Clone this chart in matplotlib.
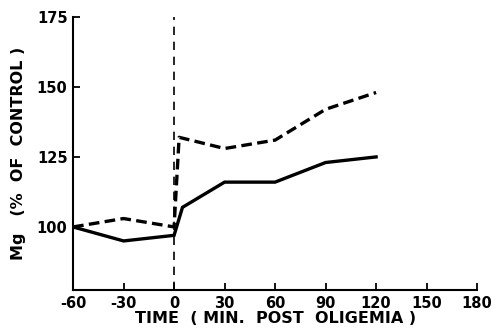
import matplotlib
matplotlib.use('Agg')
import matplotlib.pyplot as plt

plt.rcParams['axes.unicode_minus'] = False

# ── Data ────────────────────────────────────────────────────
time_dashed = [-60, -30, 0, 3, 30, 60, 90, 120]
mg_dashed = [100, 103, 100, 132, 128, 131, 142, 148]

time_solid = [-60, -30, 0, 5, 30, 60, 90, 120]
mg_solid = [100, 95, 97, 107, 116, 116, 123, 125]

x_ticks = [-60, -30, 0, 30, 60, 90, 120, 150, 180]
y_ticks = [100, 125, 150, 175]

fig = plt.figure(figsize=(4.97, 3.31), dpi=100)
ax = fig.add_axes([0.147, 0.124, 0.813, 0.825])

ax.plot(time_dashed, mg_dashed, color='black', lw=2.4, ls=(0, (3.2, 1.6)))
ax.plot(time_solid, mg_solid, color='black', lw=2.4, solid_joinstyle='miter')
ax.axvline(0, color='black', lw=1.2, ls=(0, (5, 4)))

ax.set_xlim(-60, 180)
ax.set_ylim(77.5, 175)
ax.set_xticks(x_ticks)
ax.set_yticks(y_ticks)
ax.tick_params(direction='in', length=5, width=1.3, labelsize=10.5, pad=4)
for lab in ax.get_xticklabels() + ax.get_yticklabels():
    lab.set_fontweight('bold')

for side in ['top', 'right']:
    ax.spines[side].set_visible(False)
for side in ['left', 'bottom']:
    ax.spines[side].set_linewidth(1.5)

ax.set_xlabel('TIME  ( MIN.  POST  OLIGEMIA )', fontsize=11.5, fontweight='bold', labelpad=0)
ax.set_ylabel('Mg   (%  OF  CONTROL )', fontsize=11.5, fontweight='bold', labelpad=8)

fig.savefig('out.png', dpi=100)
